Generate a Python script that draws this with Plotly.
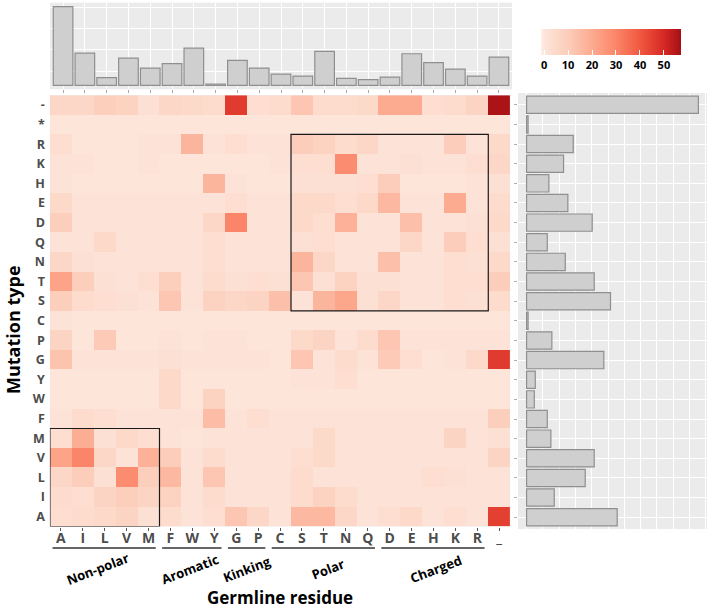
import plotly.graph_objects as go

# ---------------- data ----------------
cols = ["A", "I", "L", "V", "M", "F", "W", "Y", "G", "P", "C", "S", "T", "N", "Q",
        "D", "E", "H", "K", "R", "_"]
rows = ["-", "*", "R", "K", "H", "E", "D", "Q", "N", "T", "S", "C", "P", "G", "Y",
        "W", "F", "M", "V", "L", "I", "A"]

#            A   I   L   V   M   F   W   Y   G   P   C   S   T   N   Q   D   E   H   K   R   _
r_dash  = [  6,  6,  9,  8,  2,  6,  5,  4, 46,  3,  4, 12,  4,  4,  5, 20, 20,  3,  4,  7, 56]
r_star  = [  0,  0,  0,  0,  0,  0,  0,  0,  0,  0,  0,  0,  0,  0,  0,  0,  0,  0,  0,  0,  0]
r_R     = [  3,  0,  0,  0,  1,  1, 17,  1,  3,  1,  1, 10,  8,  4,  6,  1,  1,  1, 10,  1,  5]
r_K     = [  1,  1,  0,  0,  1,  0,  0,  0,  0,  0,  1,  3,  3, 28,  1,  1,  2,  1,  1,  3,  6]
r_H     = [  1,  0,  0,  0,  0,  0,  0, 17,  1,  0,  0,  2,  2,  2,  3, 10,  0,  0,  0,  1,  2]
r_E     = [  5,  1,  1,  1,  1,  1,  1,  1,  3,  1,  1,  5,  5,  3,  5, 16,  1,  1, 20,  1,  4]
r_D     = [  9,  1,  1,  1,  1,  1,  1,  6, 30,  1,  1,  5,  3, 18,  1,  1, 14,  1,  1,  2,  5]
r_Q     = [  1,  1,  5,  1,  1,  1,  1,  3,  1,  1,  1,  2,  3,  1,  1,  1,  6,  1, 10,  3,  2]
r_N     = [  6,  2,  1,  1,  1,  1,  1,  3,  1,  1,  1, 17,  6,  1,  1, 14,  1,  1,  3,  2,  5]
r_T     = [ 22,  9,  2,  1,  3,  9,  1,  4,  2,  3,  2, 12,  2,  8,  2,  2,  1,  1,  3,  3, 10]
r_S     = [  9,  4,  3,  2,  1, 12,  1,  8,  6,  7, 14,  1, 17, 21,  2,  6,  1,  1,  3,  2,  4]
r_C     = [  1,  0,  0,  0,  0,  0,  0,  0,  0,  0,  0,  0,  0,  0,  0,  0,  0,  0,  0,  0,  0]
r_P     = [  7,  0, 11,  0,  0,  1,  0,  1,  1,  0,  0,  5,  7,  1,  4, 12,  1,  1,  1,  1,  1]
r_G     = [ 13,  1,  1,  1,  1,  2,  1,  1,  1,  1,  0, 12,  1,  4,  1, 11,  3,  0,  1,  5, 46]
r_Y     = [  0,  0,  0,  0,  0,  5,  0,  0,  0,  0,  0,  1,  1,  3,  0,  0,  0,  0,  0,  0,  0]
r_W     = [  0,  0,  0,  0,  0,  5,  0,  8,  0,  0,  0,  0,  0,  0,  0,  0,  0,  0,  0,  0,  0]
r_F     = [  1,  4,  3,  1,  1,  1,  1, 15,  1,  3,  1,  1,  1,  1,  1,  1,  1,  1,  1,  1,  9]
r_M     = [  3, 19,  2,  5,  3,  1,  0,  1,  1,  1,  1,  1,  5,  1,  1,  1,  1,  1,  7,  1,  2]
r_V     = [ 22, 30,  6,  1, 18, 10,  1,  4,  1,  1,  1,  3,  5,  1,  1,  1,  1,  1,  1,  1,  7]
r_L     = [  6, 10,  2, 28,  9, 16,  1, 12,  1,  1,  1,  4,  1,  1,  1,  1,  1,  3,  2,  1,  1]
r_I     = [  4,  3,  7,  9,  7,  8,  1,  4,  1,  1,  1,  4,  8,  4,  1,  1,  1,  1,  1,  1,  1]
r_A     = [  3,  4,  5,  7,  2,  4,  1,  3, 12,  6,  1, 16, 16,  6,  1,  3,  5,  1,  3,  1, 45]

z = [r_dash, r_star, r_R, r_K, r_H, r_E, r_D, r_Q, r_N, r_T, r_S, r_C, r_P, r_G,
     r_Y, r_W, r_F, r_M, r_V, r_L, r_I, r_A]

# marginal bars (top: per germline residue, right: per mutation type)
top_vals = [79, 32.3, 7.7, 27.3, 17.3, 21.7, 37.3, 1.3, 25, 17.3, 11.3, 9.3, 34, 7,
            5.7, 8.3, 31.7, 22.7, 16.3, 9.3, 28.3]
right_vals = [172, 1.5, 46.7, 37, 22.3, 41.3, 65.7, 20.7, 38.7, 67.7, 84, 1.5, 25.3,
              77.3, 8.7, 7.7, 20.7, 24.3, 67.7, 58.7, 27.7, 90.7]

groups = ["Non-polar", "Aromatic", "Kinking", "Polar", "Charged"]
group_first = ["A", "F", "G", "C", "D"]
group_last = ["M", "Y", "P", "Q", "R"]

cbar_ticks = [0, 10, 20, 30, 40, 50]

# ---------------- figure ----------------
W, H = 709, 612
def px(x):
    return x / W
def py(y):
    return 1 - y / H

zmin, zmax = -1.4, 57.0
def pos(v):
    return (v - zmin) / (zmax - zmin)

cscale = [
    [0.0, "rgb(255,240,234)"],
    [pos(0), "rgb(253,229,218)"],
    [pos(10), "rgb(252,205,186)"],
    [pos(20), "rgb(252,170,144)"],
    [pos(30), "rgb(251,133,104)"],
    [pos(40), "rgb(241,88,64)"],
    [pos(50), "rgb(214,40,36)"],
    [1.0, "rgb(165,15,21)"],
]

FONT = "Open Sans"
TXT = "#4d4d4d"

fig = go.Figure()
fig.add_trace(go.Heatmap(
    x=cols, y=rows, z=z, colorscale=cscale, zmin=zmin, zmax=zmax,
    xaxis="x", yaxis="y", hoverongaps=False,
    colorbar=dict(
        orientation="h", x=px(540.7), xanchor="left", y=py(28.5), yanchor="top",
        lenmode="pixels", len=140, thicknessmode="pixels", thickness=26,
        xpad=0, ypad=0, outlinewidth=0, tickvals=cbar_ticks,
        ticks="inside", ticklen=5, tickcolor="white", tickwidth=1,
        tickfont=dict(family=FONT, size=11, color="black", weight="bold"),
    ),
))
fig.add_trace(go.Bar(
    x=cols, y=top_vals, xaxis="x2", yaxis="y2", width=0.9,
    marker=dict(color="#cfcfcf", line=dict(color="#8f8f8f", width=1.2)),
    showlegend=False,
))
fig.add_trace(go.Bar(
    y=rows, x=right_vals, orientation="h", xaxis="x3", yaxis="y3", width=0.88,
    marker=dict(color="#cfcfcf", line=dict(color="#8f8f8f", width=1.2)),
    showlegend=False,
))

tickfont = dict(family=FONT, size=14, color=TXT, weight="bold")
fig.update_layout(
    width=W, height=H, margin=dict(l=0, r=0, t=0, b=0),
    paper_bgcolor="white", plot_bgcolor="#ebebeb", showlegend=False,
    bargap=0.1,
    xaxis=dict(domain=[px(49.9), px(510.2)], anchor="y", categoryorder="array",
               categoryarray=cols, range=[-0.5, 20.5], showgrid=False, zeroline=False,
               ticks="outside", ticklen=3, tickcolor="#555", tickfont=tickfont,
               ticklabelstandoff=-4),
    yaxis=dict(domain=[py(526.5), py(95.2)], anchor="x", categoryorder="array",
               categoryarray=rows, range=[21.5, -0.5], showgrid=False, zeroline=False,
               ticks="", ticklabelstandoff=4,
               tickfont=dict(family=FONT, size=12.5, color=TXT, weight="bold")),
    xaxis2=dict(domain=[px(50), px(512)], anchor="y2", categoryorder="array",
                categoryarray=cols, range=[-0.6, 20.6], showticklabels=False,
                showgrid=True, gridcolor="white", gridwidth=1, zeroline=False,
                ticks="outside", ticklen=3, tickcolor="#aaa"),
    yaxis2=dict(domain=[py(89.3), py(2.7)], anchor="x2", range=[-4, 83],
                showticklabels=False, showgrid=True, gridcolor="white",
                tick0=14, dtick=21.5, zeroline=False, ticks=""),
    xaxis3=dict(domain=[px(518), px(707)], anchor="y3", range=[-8.6, 180.6],
                showticklabels=False, showgrid=True, gridcolor="white",
                tick0=0, dtick=16.3, zeroline=False, ticks=""),
    yaxis3=dict(domain=[py(529), py(93)], anchor="x3", categoryorder="array",
                categoryarray=rows, range=[21.6, -0.6], showticklabels=False,
                showgrid=True, gridcolor="white", zeroline=False,
                ticks="outside", ticklen=3, tickcolor="#aaa"),
)

shapes = []
# highlight boxes
boxes = [("S", "R", "R", "S"), ("A", "M", "M", "A")]
for c0, c1, r0, r1 in boxes:
    shapes.append(dict(type="rect", xref="x", yref="y",
                       x0=cols.index(c0) - 0.5, x1=cols.index(c1) + 0.5,
                       y0=rows.index(r0) - 0.5, y1=rows.index(r1) + 0.5,
                       line=dict(color="#1a1a1a", width=1.2), fillcolor="rgba(0,0,0,0)"))

annotations = []
offsets = [-0.35, -0.1, 0.0, 0.2, 0.1]
for g, f, l, off in zip(groups, group_first, group_last, offsets):
    i0, i1 = cols.index(f), cols.index(l)
    shapes.append(dict(type="line", xref="x", yref="paper",
                       x0=i0 - 0.38, x1=i1 + 0.33, y0=py(548), y1=py(548),
                       line=dict(color="#333333", width=1.5)))
    annotations.append(dict(xref="x", yref="paper", x=(i0 + i1) / 2 + off, y=py(569),
                            text=g, showarrow=False, textangle=-21,
                            font=dict(family=FONT, size=13, color="black", weight="bold"),
                            xanchor="center", yanchor="middle"))

annotations.append(dict(xref="paper", yref="paper", x=px(280), y=py(597),
                        text="Germline residue", showarrow=False,
                        font=dict(family=FONT, size=17, color="black", weight="bold"),
                        xanchor="center", yanchor="middle"))
annotations.append(dict(xref="paper", yref="paper", x=px(13), y=py(330),
                        text="Mutation type", showarrow=False, textangle=-90,
                        font=dict(family=FONT, size=18, color="black", weight="bold"),
                        xanchor="center", yanchor="middle"))

fig.update_layout(shapes=shapes, annotations=annotations)
fig.write_html("out.html", config={"displayModeBar": False},
               post_script="document.body.style.margin='0px';")
